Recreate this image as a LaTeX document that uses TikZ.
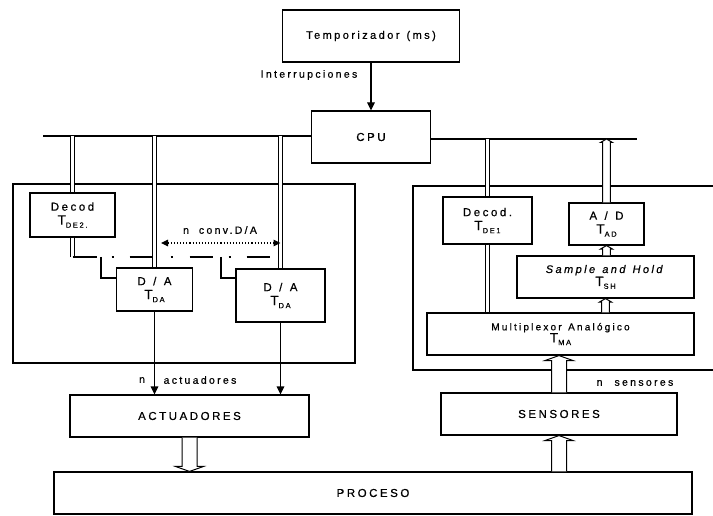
\documentclass[tikz,border=0pt]{standalone}
\usepackage{fontspec}
\setmainfont{Liberation Sans}[LetterSpace=22, WordSpace=1.3, FakeBold=0.6]
\usetikzlibrary{arrows.meta,calc}

% T with a small subscript, as used for the timing labels
\newcommand\Tsub[1]{{\fontsize{13.5}{14}\selectfont T}\raisebox{-0.5ex}{\fontsize{7.5}{8}\selectfont #1}}

% wide hollow arrow: #1 start, #2 tip, #3 half shaft width, #4 half head width, #5 head length
\newcommand\fatarrow[5]{%
  \coordinate (fab) at ($(#2)!#5!(#1)$);
  \draw[line width=1pt, fill=white]
    ($(#1)!#3!90:(#2)$) -- ($(fab)!#3!90:(#2)$) -- ($(fab)!#4!90:(#2)$) -- (#2)
    -- ($(fab)!#4!-90:(#2)$) -- ($(fab)!#3!-90:(#2)$) -- ($(#1)!#3!-90:(#2)$);
}

\tikzset{
  blk/.style={draw, line width=1.1pt, inner sep=1pt, align=center,
              font=\fontsize{11.5}{14}\selectfont},
  dbl/.style={double, double distance=3.2pt, line width=0.9pt},
  sig/.style={line width=1.1pt, -{Triangle[length=8pt,width=7.5pt]}},
  lbl/.style={inner sep=0pt, font=\fontsize{10.5}{11}\selectfont},
  frame/.style={line width=1.1pt},
}

\begin{document}
\begin{tikzpicture}[x=1pt, y=-1pt]
\useasboundingbox (0,0) rectangle (713,516);

% blocks
\node[blk, minimum width=177pt, minimum height=52pt, font=\fontsize{11}{13}\selectfont] (temp) at (371,36) {Temporizador (ms)};
\node[blk, minimum width=119pt, minimum height=52pt] (cpu) at (371,137) {CPU};

\node[blk, minimum width=85pt, minimum height=44pt] (dec2) at (72.5,215) {Decod\\\Tsub{DE2.}};
\node[blk, minimum width=76pt, minimum height=43pt] (da1) at (154.5,289.5) {D / A\\\Tsub{DA}};
\node[blk, minimum width=89pt, minimum height=53pt] (da2) at (280.5,295.5) {D / A\\\Tsub{DA}};
\node[blk, minimum width=239pt, minimum height=42pt] (act) at (189.5,416) {ACTUADORES};
\node[blk, minimum width=638pt, minimum height=42pt] (proc) at (373,493) {PROCESO};

\node[blk, minimum width=89pt, minimum height=47pt] (dec1) at (487.5,220.5) {Decod.\\\Tsub{DE1}};
\node[blk, minimum width=75pt, minimum height=42pt] (ad) at (606.5,224) {A / D\\\Tsub{AD}};
\node[blk, minimum width=177pt, minimum height=42pt, font=\fontsize{11}{13}\selectfont] (sh) at (605.5,277) {\textit{Sample and Hold}\\\Tsub{SH}};
\node[blk, minimum width=267pt, minimum height=42pt, font=\fontsize{10}{12}\selectfont] (ma) at (560.5,334) {Multiplexor Analógico\\\Tsub{MA}};
\node[blk, minimum width=236pt, minimum height=42pt] (sens) at (559,414) {SENSORES};

% enclosing frames
\draw[frame] (13,184) rectangle (355,363);
\draw[frame] (716,186) -- (413,186) -- (413,370) -- (716,370);

% system bus
\coordinate (busL) at (43,136);
\coordinate (busR) at (637,139);
\draw[frame] (busL) -- (busL -| cpu.west);
\draw[frame] (cpu.east |- busR) -- (busR);

% interrupt line
\draw[sig] (temp.south) -- (cpu.north);
\node[lbl] (intr) at (309,75) {Interrupciones};

% output side: bus links
\draw[dbl] (dec2.north |- busL) -- (dec2.north);
\draw[dbl] (da1.north |- busL) -- (da1.north);
\draw[dbl] (da2.north |- busL) -- (da2.north);

% decoder select lines
\coordinate (dj) at (72.5,257);
\coordinate (dend) at (270,257);
\coordinate (br1) at (101,257);
\coordinate (br2) at (221,257);
\draw[dbl] (dec2.south) -- (dj);
\draw[frame, dash pattern=on 24pt off 15pt on 2pt off 16pt on 22pt off 19pt on 2pt off 17pt on 23pt off 16pt on 2pt off 16pt on 23pt]
  (dj) -- (dend);
\draw[frame] (br1) |- ([yshift=11.5pt]da1.west);
\draw[frame] (br2) |- ([yshift=17.5pt]da2.west);

% n converters
\coordinate (cv) at (161,243);
\draw[dotted, line width=1.1pt, {Triangle[length=7pt,width=6.5pt]}-{Triangle[length=7pt,width=6.5pt]}]
  (cv) -- (cv -| da2.north);
\node[lbl] (nconv) at (220,230) {n\hspace{10pt}conv.D/A};

% to the actuators
\draw[sig] (da1.south) -- (da1.south |- act.north);
\draw[sig] (da2.south) -- (da2.south |- act.north);
\node[lbl] (nact) at (142,380) {n};
\node[lbl] (actl) at (200,380) {actuadores};

% input side: bus links
\draw[dbl] (dec1.north |- busR) -- (dec1.north);
\draw[dbl] (dec1.south) -- (dec1.south |- ma.north);

% data paths
\coordinate (pa) at (act.south |- proc.north);
\fatarrow{act.south}{pa}{7.5pt}{14pt}{5pt}
\coordinate (ps) at (sens.south |- proc.north);
\fatarrow{ps}{sens.south}{7.5pt}{14pt}{5pt}
\coordinate (sm) at (sens.north |- ma.south);
\fatarrow{sens.north}{sm}{7.5pt}{14pt}{5pt}
\coordinate (ms) at (sh.south |- ma.north);
\fatarrow{ms}{sh.south}{3.8pt}{6pt}{3.5pt}
\coordinate (sa) at (ad.south |- sh.north);
\fatarrow{sa}{ad.south}{3.8pt}{6pt}{3.5pt}
\coordinate (ab) at (ad.north |- busR);
\fatarrow{ad.north}{ab}{3.8pt}{6pt}{3.5pt}

\node[lbl] (nsens) at (635,383) {n\hspace{12pt}sensores};
\end{tikzpicture}
\end{document}
